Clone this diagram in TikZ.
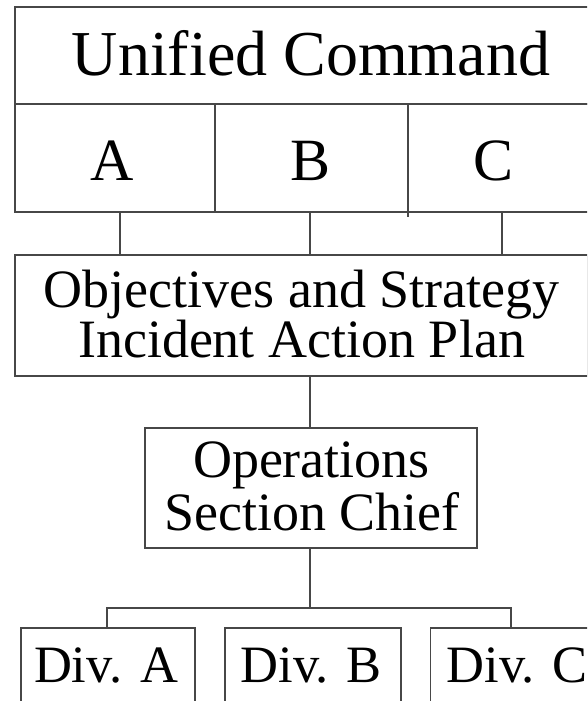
\documentclass[tikz,border=0pt]{standalone}
\usepackage{fontspec}
\setmainfont{Liberation Serif}
\begin{document}
\begin{tikzpicture}[x=1pt,y=-1pt,
  ln/.style={draw=black!72, line width=1.4pt},
  boxnode/.style={ln, rectangle, inner sep=0pt, minimum width=#1},
  txt/.style={inner sep=0pt, anchor=base},
  fbig/.style={font=\fontsize{64}{64}\selectfont},
  fabc/.style={font=\fontsize{60}{60}\selectfont},
  fmid/.style={font=\fontsize{54}{54}\selectfont},
  fsm/.style={font=\fontsize{52.5}{52.5}\selectfont}]
\useasboundingbox (0,0) rectangle (587,701);
\clip (0,0) rectangle (587,701);
% top command block
\node[boxnode=592, minimum height=97] (uc) at (311,55.5) {};
\node[boxnode=592, minimum height=108] (row) at (311,158) {};
\node[txt, fbig] (uct) at (311,75) {Unified Command};
\node[txt, fabc] (ta) at (112,180) {A};
\node[txt, fabc] (tb) at (311,180) {B};
\node[txt, fabc] (tc) at (494,180) {C};
\coordinate (d1) at (215,150);
\coordinate (d2) at (408,150);
\draw[ln] (row.north -| d1) -- (row.south -| d1);
\draw[ln] ([yshift=-2pt]row.north -| d2) -- ([yshift=-4pt]row.south -| d2);
% objectives
\node[boxnode=573, minimum height=121] (obj) at (301.5,315.5) {};
\node[txt, fmid] (obj1) at (301.5,307) {Objectives and Strategy};
\node[txt, fmid] (obj2) at (301.5,357) {Incident Action Plan};
\coordinate (ca) at (120,230);
\coordinate (cb) at (310,230);
\coordinate (cc) at (502,230);
\draw[ln] (ca |- row.south) -- (ca |- obj.north);
\draw[ln] (cb |- row.south) -- (cb |- obj.north);
\draw[ln] (cc |- row.south) -- (cc |- obj.north);
% operations
\node[boxnode=332, minimum height=120] (ops) at (311,488) {};
\node[txt, fmid] (ops1) at (311.5,477) {Operations};
\node[txt, fmid] (ops2) at (312,530) {Section Chief};
\draw[ln] (cb |- obj.south) -- (cb |- ops.north);
% divisions
\node[boxnode=174, minimum height=92] (diva) at (108,674) {};
\node[boxnode=176, minimum height=92] (divb) at (313,674) {};
\node[boxnode=175, minimum height=92] (divc) at (518,674) {};
\node[txt, fsm] (ta2) at (106,682) {Div. A};
\node[txt, fsm] (tb2) at (311,682) {Div. B};
\node[txt, fsm] (tc2) at (517,682) {Div. C};
\coordinate (busL) at (107,608);
\coordinate (busR) at (511,608);
\draw[ln] (cb |- ops.south) -- (cb |- busL);
\draw[ln] (busL |- diva.north) -- (busL) -- (busR) -- (busR |- divc.north);
\end{tikzpicture}
\end{document}
